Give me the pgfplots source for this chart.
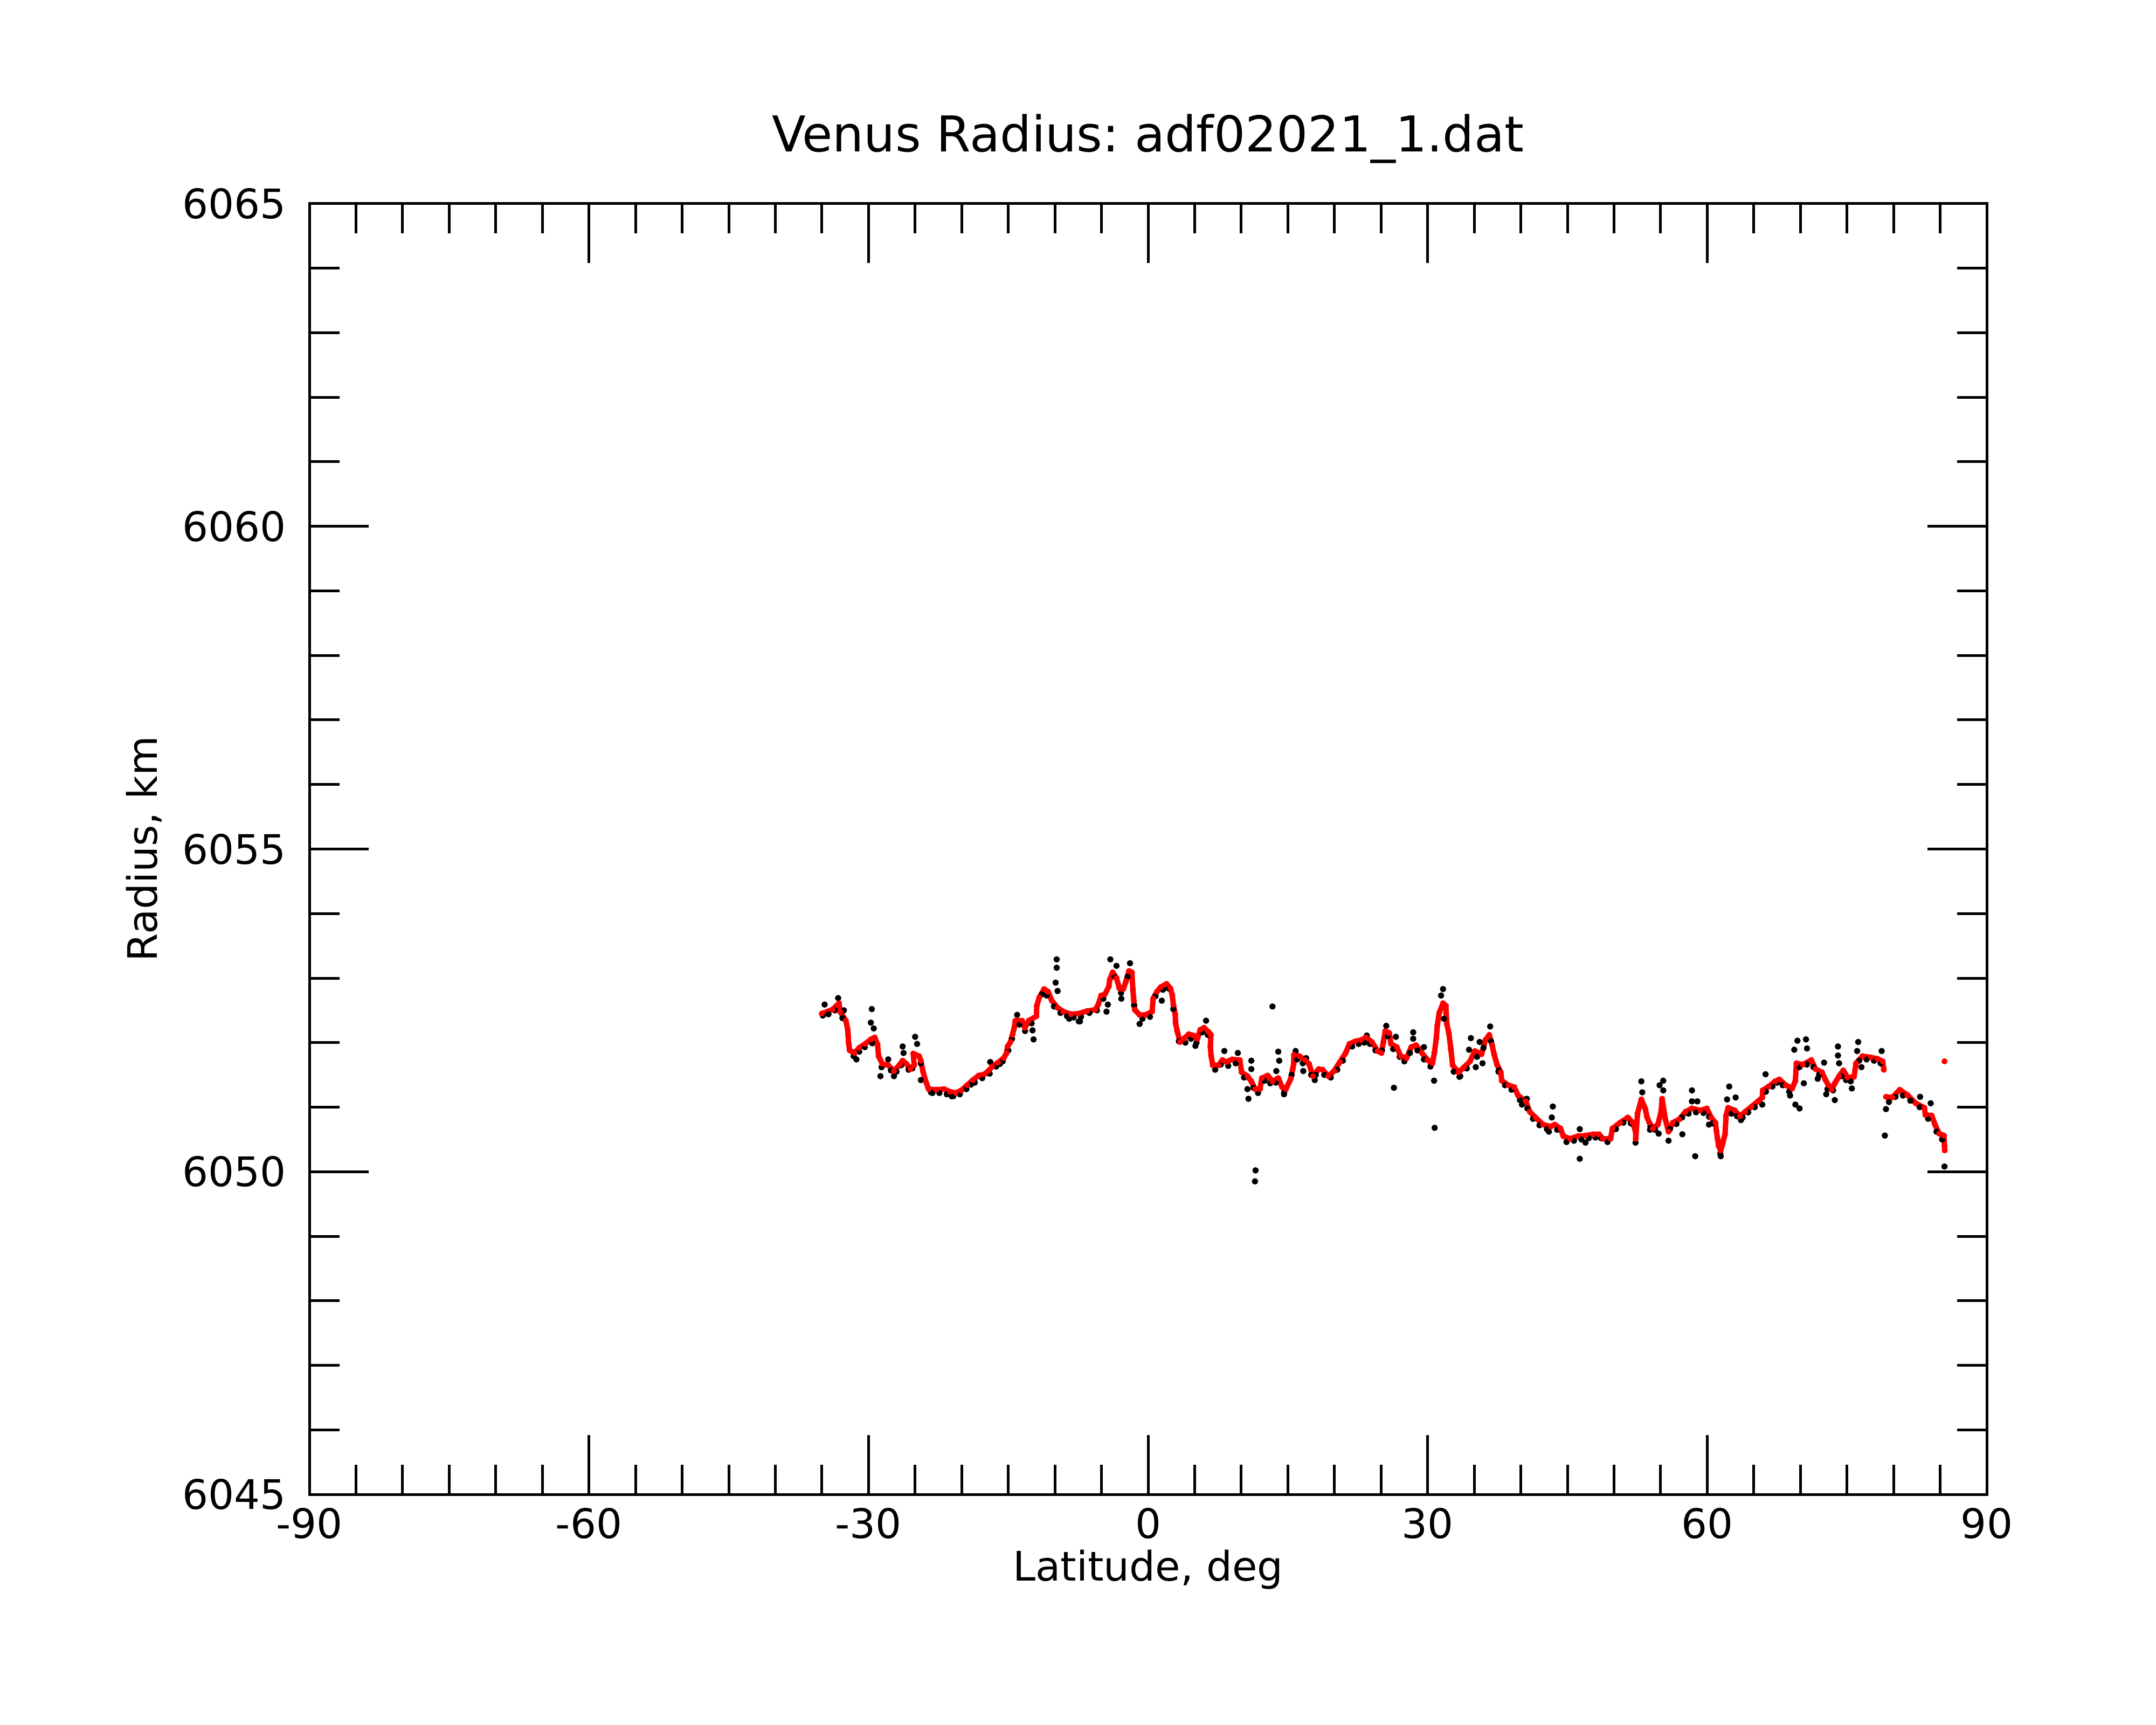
\documentclass[border=0pt]{standalone}
\usepackage{fontspec}
\setmainfont{DejaVu Sans}
\usepackage{pgfplots}
\pgfplotsset{compat=1.18}
\frenchspacing
\begin{document}
\frenchspacing
\fontsize{13.6pt}{16pt}\selectfont
\begin{tikzpicture}
\useasboundingbox (-103.32pt,-76.86pt) rectangle (616.68pt,499.14pt);
\begin{axis}[
  at={(0pt,0pt)}, anchor=south west,
  scale only axis, width=560.16pt, height=431.1pt,
  xmin=-90, xmax=90, ymin=6045, ymax=6065,
  xtick={-90,-60,-30,0,30,60,90},
  xticklabels={-90,-60,-30,0,30,60,90},
  minor xtick={-85,-80,-75,-70,-65,-55,-50,-45,-40,-35,-25,-20,-15,-10,-5,5,10,15,20,25,35,40,45,50,55,65,70,75,80,85},
  ytick={6045,6050,6055,6060,6065},
  yticklabels={6045,6050,6055,6060,6065},
  minor ytick={6046,6047,6048,6049,6051,6052,6053,6054,6056,6057,6058,6059,6061,6062,6063,6064},
  tick align=inside,
  major tick length=19.8pt, minor tick length=10pt,
  every tick/.style={black, line width=0.9pt},
  every minor tick/.style={black, line width=0.9pt},
  axis line style={line width=0.9pt},
  xticklabel style={inner sep=0pt, anchor=north, yshift=-4.3pt, font=\fontsize{13.6pt}{16pt}\selectfont},
  yticklabel style={inner sep=0pt, anchor=east, xshift=-7.6pt, font=\fontsize{13.6pt}{16pt}\selectfont},
  clip=false,
]
% black: raw measurements (shadow points along the trace and outliers)
\addplot[only marks, mark=*, mark size=0.85pt, black, mark options={line width=0.4pt}] coordinates {
(-34.9,6052.42) (-34.3,6052.44) (-33.6,6052.50) (-32.8,6052.38) (-31.6,6051.79) (-31.0,6051.86) (-30.4,6051.93) (-29.6,6051.99)
(-28.6,6051.62) (-27.6,6051.57) (-27.0,6051.55) (-26.5,6051.65) (-25.7,6051.58) (-25.3,6051.60) (-24.4,6051.68) (-23.3,6051.23)
(-22.4,6051.22) (-21.6,6051.20) (-20.9,6051.17) (-20.2,6051.20) (-19.5,6051.28) (-18.6,6051.38) (-17.8,6051.45) (-17.0,6051.52)
(-16.3,6051.63) (-15.6,6051.71) (-15.0,6051.88) (-14.6,6052.06) (-13.8,6052.28) (-13.2,6052.18) (-12.5,6052.30) (-11.4,6052.75)
(-10.9,6052.73) (-10.1,6052.56) (-9.4,6052.46) (-8.7,6052.41) (-8.0,6052.39) (-7.2,6052.40) (-6.3,6052.46) (-5.5,6052.50)
(-4.8,6052.68) (-3.6,6053.02) (-2.9,6052.77) (-2.2,6053.02) (-1.5,6052.58) (-0.6,6052.37) (0.2,6052.40) (0.8,6052.72)
(1.6,6052.82) (2.2,6052.84) (2.7,6052.52) (3.3,6052.02) (4.0,6052.00) (4.6,6052.06) (5.2,6052.00) (5.8,6052.16)
(6.4,6052.12) (7.2,6051.58) (7.8,6051.66) (8.6,6051.64) (9.4,6051.68) (10.3,6051.46) (11.3,6051.30) (11.8,6051.22)
(12.5,6051.41) (13.1,6051.37) (13.7,6051.38) (14.6,6051.23) (15.4,6051.50) (16.0,6051.74) (16.6,6051.68) (17.5,6051.50)
(18.0,6051.50) (18.9,6051.50) (19.6,6051.46) (20.3,6051.58) (20.9,6051.72) (21.9,6051.94) (22.6,6051.98) (23.2,6052.00)
(23.8,6051.98) (24.4,6051.88) (25.1,6051.88) (25.7,6052.10) (26.3,6051.90) (27.0,6051.78) (27.5,6051.71) (28.1,6051.84)
(28.9,6051.88) (29.6,6051.74) (30.3,6051.63) (32.8,6051.55) (33.5,6051.48) (34.2,6051.60) (35.3,6051.78) (36.0,6051.92)
(36.8,6052.02) (37.6,6051.55) (38.3,6051.34) (39.0,6051.27) (39.9,6051.11) (40.7,6050.98) (41.3,6050.82) (42.0,6050.72)
(42.8,6050.66) (43.9,6050.65) (44.9,6050.46) (45.7,6050.48) (46.5,6050.50) (47.3,6050.52) (48.0,6050.53) (48.6,6050.52)
(49.3,6050.46) (50.2,6050.66) (51.0,6050.76) (51.8,6050.75) (53.9,6050.70) (54.4,6050.65) (56.0,6050.66) (56.7,6050.74)
(57.3,6050.84) (58.0,6050.90) (58.8,6050.92) (59.6,6050.91) (60.2,6050.85) (60.6,6050.75) (61.4,6050.28) (62.6,6050.90)
(63.2,6050.86) (63.8,6050.84) (64.4,6050.92) (65.1,6051.00) (66.3,6051.24) (67.0,6051.32) (67.5,6051.38) (68.1,6051.34)
(68.8,6051.24) (69.9,6051.62) (70.7,6051.66) (71.4,6051.62) (72.0,6051.50) (72.9,6051.28) (73.5,6051.26) (74.4,6051.48)
(74.9,6051.42) (75.4,6051.40) (76.3,6051.72) (77.1,6051.74) (77.9,6051.72) (78.6,6051.68) (79.5,6051.08) (80.2,6051.16)
(81.0,6051.18) (81.8,6051.10) (82.8,6051.00) (83.7,6050.82) (84.6,6050.62) (85.2,6050.50)
(-34.71,6052.59) (-33.26,6052.69) (-32.64,6052.50) (-29.65,6052.52) (-29.75,6052.31) (-29.44,6052.22) (-31.30,6051.74)
(-28.72,6051.48) (-27.89,6051.74) (-26.34,6051.94) (-26.24,6051.84) (-25.00,6052.09) (-24.79,6051.98) (-24.38,6051.42)
(-27.27,6051.48) (-9.81,6053.29) (-9.81,6053.16) (-9.92,6052.93) (-9.71,6052.80) (-14.05,6052.43) (-12.40,6052.19)
(-12.29,6052.05) (-8.47,6052.37) (-7.44,6052.33) (-23.14,6051.22) (-21.07,6051.17) (-16.94,6051.70) (-15.90,6051.67)
(-19.01,6051.35)
(-4.05,6053.29) (-3.39,6053.19) (-1.94,6053.23) (-2.87,6052.68) (-4.32,6052.59) (-4.46,6052.48) (-7.31,6052.33)
(-0.91,6052.29) (1.47,6052.65) (13.35,6052.56) (6.22,6052.34) (5.08,6051.95) (8.18,6051.87) (9.63,6051.84)
(11.08,6051.72) (11.08,6051.59) (10.66,6051.28) (10.77,6051.13) (13.97,6051.86) (14.07,6051.72) (13.76,6051.56)
(14.59,6051.20) (15.83,6051.87) (16.96,6051.76) (16.65,6051.56) (17.89,6051.42) (23.47,6052.11)
(11.53,6050.02) (11.47,6049.85) (26.38,6051.30) (30.75,6050.68) (30.69,6051.41)
(25.56,6052.26) (26.59,6052.09) (28.45,6052.16) (28.45,6052.06) (29.60,6051.93) (31.65,6052.83) (31.44,6052.73)
(31.75,6052.37) (34.64,6052.07) (34.44,6051.89) (35.58,6052.01) (35.16,6051.62) (35.89,6051.68) (33.41,6051.47)
(36.71,6052.25) (37.64,6051.57) (40.64,6051.13) (40.12,6051.04) (43.43,6051.01) (43.32,6050.84) (43.01,6050.62)
(46.32,6050.66) (46.32,6050.20) (46.94,6050.45) (52.93,6051.40) (53.03,6051.23) (52.31,6050.45) (53.86,6050.65)
(54.89,6051.34) (54.79,6050.59)
(55.28,6051.41) (55.28,6051.26) (55.85,6050.48) (57.33,6050.58) (58.36,6051.26) (58.36,6051.09) (58.71,6050.24)
(58.94,6051.09) (60.19,6050.73) (61.45,6050.24) (62.36,6051.32) (62.13,6051.12) (63.05,6051.15) (63.62,6050.80)
(66.26,6051.51) (65.91,6051.04) (68.89,6051.18) (69.46,6051.04) (69.91,6050.98) (69.68,6052.03) (70.60,6052.05)
(70.71,6051.91) (69.34,6051.89) (70.37,6051.37) (71.86,6051.44) (72.54,6051.69) (72.77,6051.20) (73.69,6051.11)
(74.03,6051.94) (74.03,6051.80) (74.15,6051.68) (75.52,6051.29) (76.20,6052.01) (76.09,6051.87) (76.55,6051.62)
(78.72,6051.87) (79.18,6050.97) (79.06,6050.56) (82.84,6051.16) (83.98,6051.06) (85.46,6050.08)
};
% red: smoothed profile
\addplot[red, line width=1.8pt, line join=round, line cap=round, mark=*, mark size=0.85pt, mark options={solid, fill=red, line width=0.3pt}] coordinates {
(-35.02,6052.45) (-33.88,6052.51) (-33.16,6052.61) (-33.05,6052.48) (-32.43,6052.34) (-32.23,6052.20) (-32.19,6052.11)
(-32.13,6051.99) (-32.02,6051.88) (-31.50,6051.84) (-30.99,6051.92) (-30.37,6051.98) (-29.75,6052.05) (-29.34,6052.08)
(-29.03,6051.97) (-28.92,6051.79) (-28.51,6051.67) (-27.89,6051.65) (-27.27,6051.56) (-26.65,6051.66) (-26.34,6051.72)
(-25.93,6051.67) (-25.51,6051.59) (-25.10,6051.65) (-25.20,6051.83) (-24.58,6051.79) (-24.38,6051.72) (-24.17,6051.56)
(-23.86,6051.40) (-23.55,6051.28) (-22.72,6051.27) (-21.90,6051.28) (-21.28,6051.24) (-20.66,6051.22) (-20.04,6051.26)
(-19.42,6051.34) (-18.80,6051.42) (-18.18,6051.49) (-17.56,6051.51) (-17.15,6051.56) (-16.73,6051.63) (-16.11,6051.69)
(-15.49,6051.76) (-15.18,6051.84) (-15.08,6051.94) (-14.77,6052.01) (-14.56,6052.12) (-14.36,6052.23) (-14.25,6052.34)
(-13.53,6052.34) (-13.22,6052.23) (-12.81,6052.34) (-11.98,6052.41) (-11.95,6052.57) (-11.67,6052.70) (-11.16,6052.83)
(-10.74,6052.79) (-10.33,6052.65) (-9.71,6052.54) (-9.09,6052.48) (-8.26,6052.44) (-7.44,6052.45) (-6.55,6052.49)
(-5.66,6052.51) (-5.35,6052.59) (-5.04,6052.73) (-4.63,6052.75) (-4.21,6052.87) (-4.11,6052.98) (-3.80,6053.09)
(-3.39,6053.00) (-3.08,6052.84) (-2.67,6052.83) (-2.37,6052.95) (-2.05,6053.11) (-1.74,6053.09) (-1.63,6052.82)
(-1.53,6052.65) (-1.43,6052.51) (-0.91,6052.43) (-0.29,6052.43) (0.43,6052.48) (0.54,6052.68) (0.95,6052.79)
(1.36,6052.86) (1.98,6052.91) (2.40,6052.84) (2.60,6052.73) (2.71,6052.59) (2.91,6052.44) (2.95,6052.30)
(3.12,6052.18) (3.43,6052.01) (3.84,6052.06) (4.36,6052.13) (4.88,6052.11) (5.29,6052.06) (5.60,6052.20)
(6.01,6052.23) (6.53,6052.16) (6.74,6052.12) (6.68,6051.94) (6.76,6051.80) (6.94,6051.65) (7.56,6051.65)
(7.98,6051.73) (8.39,6051.70) (9.01,6051.74) (9.84,6051.73) (10.04,6051.54) (10.66,6051.48) (11.08,6051.40)
(11.49,6051.28) (12.01,6051.28) (12.21,6051.45) (12.83,6051.49) (13.35,6051.40) (13.97,6051.45) (14.38,6051.31)
(14.79,6051.28) (15.31,6051.44) (15.52,6051.59) (15.62,6051.67) (15.65,6051.81) (16.24,6051.79) (16.86,6051.73)
(17.27,6051.67) (17.69,6051.48) (18.31,6051.59) (18.72,6051.58) (19.34,6051.48) (19.96,6051.56) (20.58,6051.70)
(21.20,6051.84) (21.61,6051.98) (22.23,6052.02) (22.85,6052.04) (23.39,6052.08) (24.01,6052.01) (24.63,6051.87)
(25.04,6051.84) (25.25,6052.01) (25.45,6052.18) (25.87,6052.15) (26.07,6051.98) (26.69,6051.93) (27.11,6051.79)
(27.73,6051.76) (28.24,6051.93) (28.76,6051.96) (29.38,6051.84) (30.00,6051.73) (30.51,6051.68) (30.72,6051.84)
(30.93,6052.07) (31.03,6052.26) (31.24,6052.46) (31.65,6052.61) (31.96,6052.57) (31.98,6052.46) (32.06,6052.29)
(32.27,6052.15) (32.48,6051.91) (32.68,6051.65) (33.30,6051.54) (33.92,6051.62) (34.54,6051.71) (35.06,6051.87)
(35.78,6051.82) (36.20,6052.04) (36.61,6052.12) (36.92,6051.96) (37.13,6051.82) (37.44,6051.66) (37.85,6051.54)
(37.95,6051.41) (38.67,6051.34) (39.29,6051.31) (39.71,6051.18) (40.53,6051.09) (40.95,6050.93) (41.57,6050.84)
(42.39,6050.73) (43.22,6050.70) (43.63,6050.73) (44.25,6050.67) (44.56,6050.55) (45.29,6050.51) (46.11,6050.55)
(46.94,6050.56) (47.77,6050.58) (48.39,6050.58) (48.80,6050.51) (49.63,6050.51) (49.83,6050.67) (50.66,6050.76)
(51.48,6050.84) (52.00,6050.76) (52.31,6050.62) (52.33,6050.51) (52.52,6050.90) (52.93,6051.12) (53.34,6050.98)
(53.55,6050.84) (53.79,6050.76) (54.17,6050.67) (54.70,6050.73) (55.05,6050.93) (55.16,6051.13) (55.51,6050.81)
(55.85,6050.62) (56.31,6050.76) (56.99,6050.81) (57.68,6050.93) (58.36,6050.98) (59.28,6050.95) (59.96,6050.98)
(60.42,6050.84) (60.88,6050.76) (60.99,6050.63) (61.11,6050.51) (61.22,6050.40) (61.45,6050.33) (61.68,6050.45)
(61.91,6050.58) (62.02,6050.87) (62.25,6050.99) (62.94,6050.95) (63.51,6050.86) (64.08,6050.93) (64.77,6051.01)
(65.45,6051.09) (65.91,6051.15) (65.95,6051.26) (66.60,6051.32) (67.28,6051.40) (67.74,6051.43) (68.43,6051.34)
(69.12,6051.29) (69.46,6051.41) (69.57,6051.68) (70.26,6051.66) (71.17,6051.73) (71.63,6051.59) (72.32,6051.54)
(72.66,6051.43) (73.00,6051.34) (73.35,6051.27) (73.69,6051.37) (74.15,6051.48) (74.60,6051.57) (75.06,6051.46)
(75.75,6051.47) (75.97,6051.68) (76.66,6051.79) (77.57,6051.77) (78.26,6051.75) (78.83,6051.71) (78.95,6051.58)
};
\addplot[red, line width=1.8pt, line join=round, line cap=round, mark=*, mark size=0.85pt, mark options={solid, fill=red, line width=0.3pt}] coordinates {
(79.18,6051.16) (79.86,6051.15) (80.66,6051.27) (81.46,6051.19) (82.38,6051.06) (83.30,6050.99) (83.41,6050.88)
(84.09,6050.87) (84.44,6050.73) (84.89,6050.59) (85.40,6050.56) (85.46,6050.40) (85.48,6050.33)
};
\addplot[only marks, red, mark=*, mark size=0.85pt, mark options={fill=red, line width=0.3pt}] coordinates {(85.46,6051.71)};
\end{axis}
\node[anchor=base, inner sep=0pt, font=\fontsize{16.5pt}{19pt}\selectfont] at (280.08pt,448.4pt) {Venus Radius: adf02021\_1.dat};
\node[anchor=base, inner sep=0pt] at (280.08pt,-28.8pt) {Latitude, deg};
\node[anchor=base, inner sep=0pt, rotate=90] at (-50.9pt,215.55pt) {Radius, km};
\end{tikzpicture}
\end{document}
